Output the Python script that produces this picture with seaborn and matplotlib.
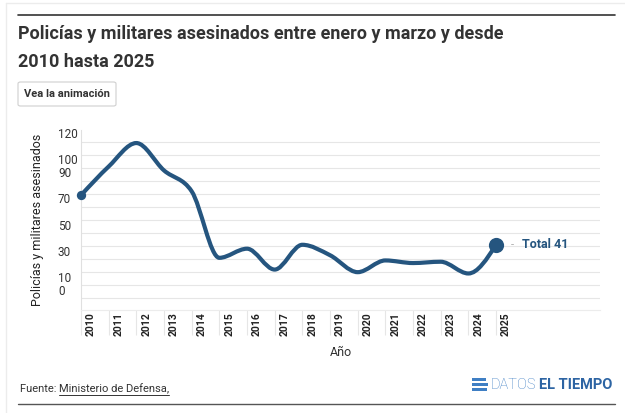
import numpy as np
import pandas as pd
import seaborn as sns
import matplotlib
matplotlib.use('Agg')
import matplotlib.pyplot as plt
import matplotlib.transforms as mtransforms
from matplotlib.path import Path
from matplotlib.patches import PathPatch, FancyBboxPatch, Rectangle
from matplotlib.lines import Line2D

# Data
years = list(range(2010, 2026))
asesinados = [79, 101, 119, 98, 82, 31, 38, 22, 41, 33, 20, 29, 27, 28, 19, 41]
ytick_values = list(range(0, 121, 10))
ytick_shown = [0, 10, 30, 50, 70, 90, 100, 120]

title = "Policías y militares asesinados entre enero y marzo y desde\n2010 hasta 2025"
ylabel = "Policías y militares asesinados"
xlabel = "Año"

df = pd.DataFrame({"Año": years, "Asesinados": asesinados})

LINE = "#25557f"
W, H = 625, 413


def fx(x):
    return x / W


def fy(y):
    return 1 - y / H


def monotone_path(x, y):
    # monotone cubic (d3 curveMonotoneX) as bezier segments
    x = np.asarray(x, float)
    y = np.asarray(y, float)
    h = np.diff(x)
    s = np.diff(y) / h
    m = np.zeros_like(y)
    for k in range(1, len(y) - 1):
        p = (s[k - 1] * h[k] + s[k] * h[k - 1]) / (h[k - 1] + h[k])
        m[k] = (np.sign(s[k - 1]) + np.sign(s[k])) * min(abs(s[k - 1]), abs(s[k]), 0.5 * abs(p))
    m[0] = (3 * s[0] - m[1]) / 2
    m[-1] = (3 * s[-1] - m[-2]) / 2
    verts = [(x[0], y[0])]
    codes = [Path.MOVETO]
    for k in range(len(x) - 1):
        d = h[k] / 3
        verts += [(x[k] + d, y[k] + m[k] * d), (x[k + 1] - d, y[k + 1] - m[k + 1] * d), (x[k + 1], y[k + 1])]
        codes += [Path.CURVE4] * 3
    return Path(verts, codes)


sns.set_theme(style="white")
plt.rcParams['font.family'] = ['Roboto', 'DejaVu Sans']

fig = plt.figure(figsize=(6.25, 4.13), dpi=100)
fig.patch.set_facecolor("white")

ax = fig.add_axes([fx(81), 103 / H, 519 / W, 180 / H])
ax.set_xlim(2010, 2010 + 519 / 27.67)
ax.set_ylim(-9, 129)

# grid
ax.set_yticks(ytick_values)
ax.set_yticklabels([])
ax.yaxis.grid(True, color="#e6e6e6", lw=0.8)
ax.set_axisbelow(True)
ax.tick_params(axis="y", length=0)
for side in ["top", "right"]:
    ax.spines[side].set_visible(False)
ax.spines["left"].set_color("#e0e0e0")
ax.spines["bottom"].set_color("#ececec")
ax.spines["left"].set_linewidth(0.8)
ax.spines["bottom"].set_linewidth(0.8)

ylab_tr = mtransforms.offset_copy(ax.get_yaxis_transform(), fig=fig, x=0, y=7, units="dots")
for v in ytick_shown:
    ax.text(-23 / 519, v, str(v), transform=ylab_tr, ha="left", va="center",
            fontsize=8.5, color="#333333")

# x ticks
ax.set_xticks(years)
ax.set_xticklabels([str(y) for y in years], rotation=90, fontweight="bold",
                   fontsize=7.5, color="#222222")
ax.tick_params(axis="x", length=0, pad=1.5)
shift = mtransforms.ScaledTranslation(10 / 100, 0, fig.dpi_scale_trans)
for lbl in ax.get_xticklabels():
    lbl.set_transform(lbl.get_transform() + shift)
ax.vlines(years, -25 / 180, 0, transform=ax.get_xaxis_transform(),
          colors="#e6e6e6", lw=0.8, clip_on=False)

# smooth line
patch = PathPatch(monotone_path(df["Año"], df["Asesinados"]), facecolor="none",
                  edgecolor=LINE, lw=3.0, capstyle="round", joinstyle="round", zorder=3)
ax.add_patch(patch)

sns.scatterplot(data=df.iloc[[0]], x="Año", y="Asesinados", s=45, color=LINE,
                linewidth=0, ax=ax, zorder=4, legend=False)
sns.scatterplot(data=df.iloc[[-1]], x="Año", y="Asesinados", s=120, color=LINE,
                linewidth=0, ax=ax, zorder=4, legend=False)
for c in ax.collections:
    c.set_clip_on(False)
ax.set_xlabel("")
ax.set_ylabel("")

last_year, last_val = years[-1], asesinados[-1]
ax.annotate("-", xy=(last_year, last_val), xytext=(15 * 0.72, 0), textcoords="offset points",
            ha="left", va="center", fontsize=8, color="#aaaaaa")
ax.annotate(f"Total {last_val}", xy=(last_year, last_val), xytext=(26 * 0.72, 0),
            textcoords="offset points", ha="left", va="center", fontsize=9,
            fontweight="bold", color=LINE)

# labels
fig.text(fx(38), fy(220), ylabel, rotation=90, ha="center", va="center", fontsize=9,
         color="#222222")
fig.text(fx(341), fy(352), xlabel, ha="center", va="center", fontsize=9, color="#333333")

# header
fig.add_artist(Line2D([fx(6), fx(625)], [fy(3), fy(3)], color="#ececec", lw=1))
fig.add_artist(Line2D([fx(6), fx(6)], [fy(3), fy(413)], color="#ececec", lw=1))
fig.add_artist(Line2D([fx(18), fx(615)], [fy(15), fy(15)], color="#333333", lw=1.2))
fig.text(fx(18), fy(25), title, ha="left", va="top", fontsize=13, fontweight="bold",
         color="#333333", linespacing=1.7)

btn = FancyBboxPatch((fx(18), fy(106)), 98 / W, 24 / H, boxstyle="round,pad=0,rounding_size=0.004",
                     transform=fig.transFigure, facecolor="white", edgecolor="#cfcfcf", lw=0.8)
fig.add_artist(btn)
fig.text(fx(67), fy(94), "Vea la animación", ha="center", va="center", fontsize=8,
         fontweight="bold", color="#333333")

# footer
fig.add_artist(Line2D([fx(18), fx(615)], [fy(404), fy(404)], color="#555555", lw=1.0))
t1 = fig.text(fx(20), fy(389), "Fuente: ", ha="left", va="center", fontsize=8, color="#333333")
fig.canvas.draw()
r = fig.canvas.get_renderer()
bb = t1.get_window_extent(r)
t2 = fig.text(bb.x1 / W, fy(389), "Ministerio de Defensa,", ha="left", va="center",
              fontsize=8, color="#333333")
bb2 = t2.get_window_extent(r)
fig.add_artist(Line2D([bb2.x0 / W, bb2.x1 / W], [fy(395), fy(395)], color="#333333", lw=0.7))

t3 = fig.text(fx(612), fy(385), "EL TIEMPO", ha="right", va="center", fontsize=10.5,
              fontweight="bold", color="#2d64a3")
bb3 = t3.get_window_extent(r)
t4 = fig.text(bb3.x0 / W - 3 / W, fy(385), "DATOS", ha="right", va="center", fontsize=10.5,
              fontweight="light", color="#3f7fc4")
bb4 = t4.get_window_extent(r)
ix = bb4.x0 - 18
for yy, hh, ww in [(378, 2.5, 14), (382.5, 3, 16), (387.5, 3.5, 15)]:
    fig.add_artist(Rectangle((ix / W, fy(yy + hh)), ww / W, hh / H, transform=fig.transFigure,
                             facecolor="#3f7fc4", edgecolor="none"))

fig.savefig("out.png", dpi=100, facecolor="white")
